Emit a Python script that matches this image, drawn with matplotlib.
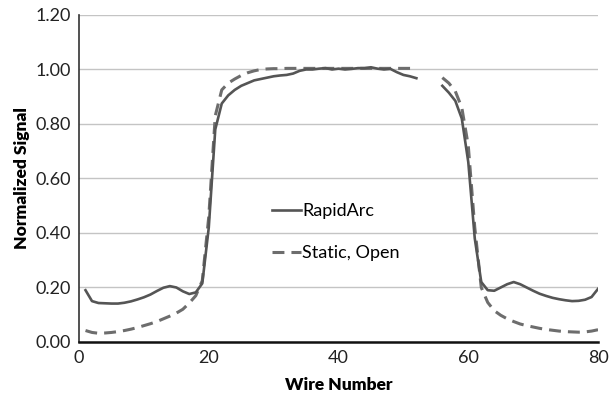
import numpy as np
import matplotlib
matplotlib.use("Agg")
import matplotlib.pyplot as plt

plt.rcParams['font.family'] = ['Lato', 'DejaVu Sans']

## Data (wires 53-55 missing in both series)
wire = np.arange(1, 81)

rapidarc = [0.19, 0.15, 0.143, 0.142, 0.141, 0.141, 0.144, 0.149, 0.156, 0.164,
            0.174, 0.187, 0.199, 0.205, 0.200, 0.186, 0.176, 0.182, 0.215, 0.42,
            0.78, 0.875, 0.905, 0.925, 0.940, 0.950, 0.960, 0.965, 0.970, 0.975,
            0.978, 0.980, 0.985, 0.995, 1.000, 1.000, 1.003, 1.005, 1.000, 1.003,
            1.000, 1.002, 1.005, 1.005, 1.008, 1.003, 1.000, 1.002, 0.990, 0.980,
            0.975, 0.968, np.nan, np.nan, np.nan, 0.940, 0.915, 0.885, 0.82, 0.66,
            0.38, 0.22, 0.19, 0.188, 0.20, 0.212, 0.22, 0.212, 0.200, 0.188,
            0.177, 0.169, 0.162, 0.157, 0.153, 0.150, 0.151, 0.155, 0.165, 0.195]

static_open = [0.042, 0.035, 0.032, 0.033, 0.035, 0.038, 0.042, 0.047, 0.053, 0.060,
               0.067, 0.075, 0.085, 0.095, 0.106, 0.120, 0.143, 0.170, 0.225, 0.46,
               0.83, 0.925, 0.950, 0.965, 0.978, 0.988, 0.995, 1.000, 1.002, 1.003,
               1.003, 1.004, 1.004, 1.004, 1.004, 1.004, 1.004, 1.004, 1.004, 1.004,
               1.004, 1.004, 1.004, 1.004, 1.004, 1.004, 1.004, 1.004, 1.004, 1.004,
               1.004, 1.004, np.nan, np.nan, np.nan, 0.970, 0.950, 0.920, 0.86, 0.72,
               0.42, 0.20, 0.145, 0.115, 0.098, 0.085, 0.075, 0.066, 0.060, 0.055,
               0.050, 0.046, 0.043, 0.040, 0.038, 0.037, 0.036, 0.037, 0.040, 0.045]

xticks = [0, 20, 40, 60, 80]
yticks = [0.0, 0.2, 0.4, 0.6, 0.8, 1.0, 1.2]

fig = plt.figure(figsize=(6.14, 3.96), dpi=100)
ax = fig.add_axes([0.1287, 0.1364, 0.8453, 0.8258])

ax.plot(wire, rapidarc, color='#555555', lw=1.9, label='RapidArc', zorder=3,
        solid_joinstyle='round')
ax.plot(wire, static_open, color='#6d6d6d', lw=2.2, linestyle=(0, (3.9, 2.3)),
        label='Static, Open', zorder=2)

ax.set_xlim(0, 80)
ax.set_ylim(0, 1.2)
ax.set_xticks(xticks)
ax.set_yticks(yticks)
ax.set_yticklabels([f"{v:.2f}" for v in yticks])
ax.tick_params(length=0, labelsize=13, pad=6, colors='#222222')
ax.yaxis.grid(True, color='#c4c4c4', lw=1)
ax.set_axisbelow(True)
for s in ['top', 'right']:
    ax.spines[s].set_visible(False)
ax.spines['left'].set_linewidth(1.2)
ax.spines['bottom'].set_linewidth(1.8)
ax.spines['left'].set_color('#333333')
ax.spines['bottom'].set_color('#111111')

ax.set_xlabel('Wire Number', fontsize=12.5, fontweight='heavy', labelpad=8)
ax.set_ylabel('Normalized Signal', fontsize=12.5, fontweight='heavy', labelpad=4)

ax.legend(loc='upper left', bbox_to_anchor=(0.34, 0.475), frameon=False,
          fontsize=13, handlelength=1.6, handletextpad=0.1, labelspacing=1.45)

fig.savefig('out.png', dpi=100)
